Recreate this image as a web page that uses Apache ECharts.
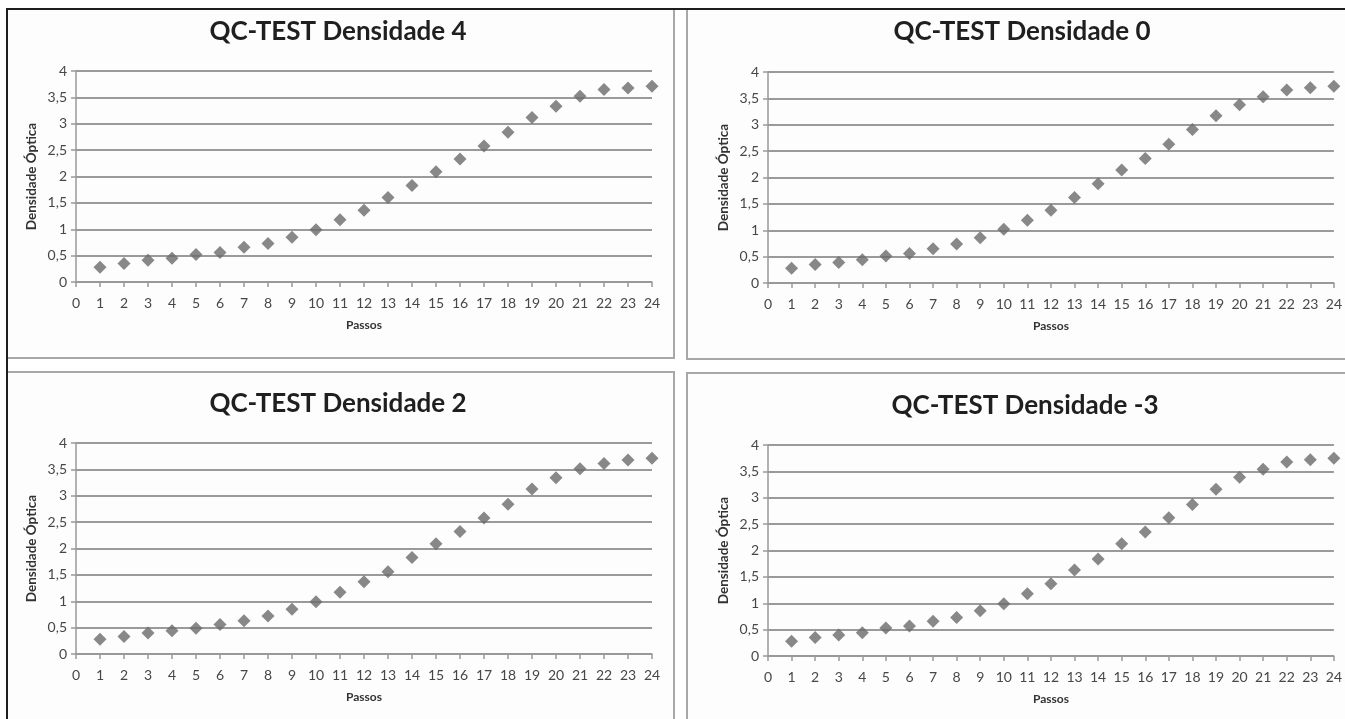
<!DOCTYPE html>
<html>
<head>
<meta charset="utf-8">
<script src="https://cdn.jsdelivr.net/npm/echarts@6/dist/echarts.min.js"></script>
<style>
html,body{margin:0;padding:0;background:#ffffff;}
#c{width:1345px;height:719px;}
</style>
</head>
<body>
<div id="c"></div>
<script>
// ---- data ----
const passos = [1,2,3,4,5,6,7,8,9,10,11,12,13,14,15,16,17,18,19,20,21,22,23,24];
const titles = ['QC-TEST Densidade 4','QC-TEST Densidade 0','QC-TEST Densidade 2','QC-TEST Densidade -3'];
const dens4  = [0.28,0.35,0.41,0.45,0.52,0.56,0.66,0.73,0.85,0.99,1.18,1.36,1.60,1.83,2.09,2.33,2.58,2.84,3.12,3.33,3.52,3.65,3.68,3.71];
const dens0  = [0.28,0.35,0.39,0.44,0.51,0.56,0.65,0.74,0.86,1.02,1.19,1.38,1.62,1.88,2.14,2.36,2.63,2.91,3.17,3.38,3.53,3.66,3.70,3.73];
const dens2  = [0.28,0.33,0.40,0.44,0.49,0.56,0.63,0.72,0.85,0.99,1.17,1.37,1.56,1.83,2.09,2.32,2.58,2.84,3.13,3.34,3.51,3.61,3.68,3.71];
const densM3 = [0.28,0.35,0.40,0.44,0.53,0.57,0.66,0.73,0.86,0.99,1.18,1.37,1.63,1.84,2.13,2.35,2.62,2.87,3.16,3.39,3.54,3.68,3.72,3.75];
const xTicks = {min:0, max:24, interval:1};
const yTicks = {min:0, max:4, interval:0.5};
const xName = 'Passos';
const yName = 'Densidade Óptica';

const allSeries = [dens4, dens0, dens2, densM3];

// ---- layout ----
const FONT = 'Lato, "Open Sans", sans-serif';
const grids = [
  {left:76,  top:71,  width:576, height:211},
  {left:768, top:72,  width:570, height:211},
  {left:76,  top:443, width:576, height:211},
  {left:768, top:445, width:570, height:211}
];
const titlePos = [
  {x:338, y:19}, {x:1022, y:19}, {x:338, y:391}, {x:1025, y:393}
];

const chart = echarts.init(document.getElementById('c'), null, {renderer:'canvas'});

const option = {
  backgroundColor:'#ffffff',
  animation:false,
  graphic:[
    // panel frames
    {type:'rect', shape:{x:7,y:9,width:667,height:349}, style:{fill:'#fdfdfd', stroke:'#a8a8a8', lineWidth:2}, z:-10},
    {type:'rect', shape:{x:687,y:9,width:700,height:350}, style:{fill:'#fdfdfd', stroke:'#a8a8a8', lineWidth:2}, z:-10},
    {type:'rect', shape:{x:7,y:372,width:667,height:400}, style:{fill:'#fdfdfd', stroke:'#a8a8a8', lineWidth:2}, z:-10},
    {type:'rect', shape:{x:687,y:373,width:700,height:400}, style:{fill:'#fdfdfd', stroke:'#a8a8a8', lineWidth:2}, z:-10},
    // outer dark frame (top and left)
    {type:'line', shape:{x1:6,y1:9,x2:1345,y2:9}, style:{stroke:'#1e1e1e', lineWidth:2}, z:-5},
    {type:'line', shape:{x1:7,y1:8,x2:7,y2:719}, style:{stroke:'#1e1e1e', lineWidth:2}, z:-5}
  ],
  title: titles.map((t,i)=>({
    text:t, left:titlePos[i].x, top:titlePos[i].y, textAlign:'center', padding:0,
    textStyle:{fontFamily:FONT, fontWeight:'bold', fontSize:26, color:'#1f1f1f'}
  })),
  grid: grids.map(g=>Object.assign({containLabel:false}, g)),
  xAxis: grids.map((g,i)=>({
    type:'value', gridIndex:i, min:xTicks.min, max:xTicks.max, interval:xTicks.interval,
    name:xName, nameLocation:'middle', nameGap:37,
    nameTextStyle:{fontFamily:FONT, fontWeight:'bold', fontSize:12, color:'#333'},
    axisLine:{show:true, onZero:false, lineStyle:{color:'#999', width:1.5}},
    axisTick:{show:true, length:5, lineStyle:{color:'#999', width:1.5}},
    axisLabel:{show:true, margin:14, fontFamily:FONT, fontSize:14, color:'#474747', hideOverlap:false},
    splitLine:{show:false}
  })),
  yAxis: grids.map((g,i)=>({
    type:'value', gridIndex:i, min:yTicks.min, max:yTicks.max, interval:yTicks.interval,
    name:yName, nameLocation:'middle', nameGap:37, nameRotate:90,
    nameTextStyle:{fontFamily:FONT, fontWeight:'bold', fontSize:13.5, color:'#333'},
    axisLine:{show:true, lineStyle:{color:'#999', width:1.5}},
    axisTick:{show:true, length:5, lineStyle:{color:'#999', width:1.5}},
    axisLabel:{show:true, margin:9, fontFamily:FONT, fontSize:14, color:'#474747',
      formatter:v=>String(v).replace('.', ',')},
    splitLine:{show:true, lineStyle:{color:'#9a9a9a', width:2}}
  })),
  series: allSeries.map((vals,i)=>({
    type:'scatter', xAxisIndex:i, yAxisIndex:i,
    symbol:'diamond', symbolSize:[13,13],
    itemStyle:{color:'#6a6a6a'},
    clip:false,
    data: passos.map((p,k)=>[p, vals[k]])
  }))
};
chart.setOption(option);
</script>
</body>
</html>
